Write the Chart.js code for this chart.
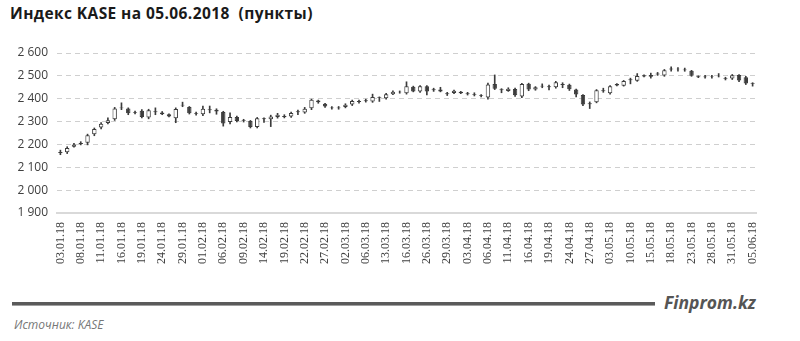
<!DOCTYPE html>
<html>
<head>
<meta charset="utf-8">
<script src="https://cdn.jsdelivr.net/npm/chart.js@4.4.1/dist/chart.umd.min.js"></script>
<style>
  body { margin: 0; background: #fff; width: 800px; height: 341px; overflow: hidden; position: relative; font-family: "Open Sans", sans-serif; }
  #title { position: absolute; left: 10px; top: 2px; font-weight: bold; font-size: 15.5px; letter-spacing: 0.4px; color: #1a1a1a; white-space: pre; }
  #wrap { position: absolute; left: 0; top: 0; width: 800px; height: 285px; }
  #rule { position: absolute; left: 12px; top: 302px; width: 643px; height: 3px; background: #5a5a5a; border-bottom: 1px solid #a0a0a0; }
  #brand { position: absolute; left: 664px; top: 290px; font-size: 17.5px; font-weight: bold; font-style: italic; color: #555; }
  #source { position: absolute; left: 14px; top: 316px; font-size: 12px; font-style: italic; color: #777; }
</style>
</head>
<body>
<div id="title">Индекс KASE на 05.06.2018  (пункты)</div>
<div id="wrap"><canvas id="myChart" width="800" height="285"></canvas></div>
<div id="rule"></div>
<div id="brand">Finprom.kz</div>
<div id="source">Источник: KASE</div>
<script>
// торговые дни
var dates = [
  '03.01.18','04.01.18','05.01.18','08.01.18','09.01.18','10.01.18','11.01.18','12.01.18','15.01.18','16.01.18',
  '17.01.18','18.01.18','19.01.18','22.01.18','23.01.18','24.01.18','25.01.18','26.01.18','29.01.18','30.01.18',
  '31.01.18','01.02.18','02.02.18','05.02.18','06.02.18','07.02.18','08.02.18','09.02.18','12.02.18','13.02.18',
  '14.02.18','15.02.18','16.02.18','19.02.18','20.02.18','21.02.18','22.02.18','23.02.18','26.02.18','27.02.18',
  '28.02.18','01.03.18','02.03.18','03.03.18','05.03.18','06.03.18','07.03.18','12.03.18','13.03.18','14.03.18',
  '15.03.18','16.03.18','19.03.18','20.03.18','26.03.18','27.03.18','28.03.18','29.03.18','30.03.18','02.04.18',
  '03.04.18','04.04.18','05.04.18','06.04.18','09.04.18','10.04.18','11.04.18','12.04.18','13.04.18','16.04.18',
  '17.04.18','18.04.18','19.04.18','20.04.18','23.04.18','24.04.18','25.04.18','26.04.18','27.04.18','28.04.18',
  '02.05.18','03.05.18','04.05.18','08.05.18','10.05.18','11.05.18','14.05.18','15.05.18','16.05.18','17.05.18',
  '18.05.18','21.05.18','22.05.18','23.05.18','24.05.18','25.05.18','28.05.18','29.05.18','30.05.18','31.05.18',
  '01.06.18','04.06.18','05.06.18'
];

var openVals = [
  2163,2166,2190,2202,2207,2245,2274,2294,2310,2358,
  2357,2341,2347,2318,2345,2340,2332,2315,2370,2364,
  2337,2332,2354,2352,2342,2298,2320,2306,2302,2276,
  2314,2310,2320,2320,2322,2341,2340,2358,2392,2378,
  2362,2358,2364,2375,2386,2389,2388,2406,2402,2420,
  2428,2424,2452,2432,2455,2437,2440,2424,2425,2430,
  2424,2420,2412,2405,2464,2441,2434,2442,2410,2465,
  2440,2453,2454,2450,2464,2461,2440,2416,2376,2384,
  2433,2424,2464,2457,2485,2479,2503,2496,2506,2502,
  2528,2529,2524,2522,2498,2494,2497,2498,2490,2488,
  2504,2494,2468
];
var highVals = [
  2175,2190,2205,2212,2245,2272,2296,2316,2362,2382,
  2360,2346,2352,2354,2360,2344,2334,2360,2385,2366,
  2342,2368,2368,2356,2345,2338,2324,2310,2305,2318,
  2316,2328,2336,2330,2342,2350,2362,2398,2394,2380,
  2366,2366,2378,2394,2394,2398,2420,2408,2424,2434,
  2434,2474,2455,2458,2458,2446,2450,2428,2438,2432,
  2428,2426,2418,2468,2504,2444,2448,2446,2467,2468,
  2453,2465,2460,2476,2470,2464,2442,2418,2386,2440,
  2446,2458,2466,2480,2490,2510,2505,2512,2515,2528,
  2540,2536,2534,2524,2500,2502,2502,2510,2494,2506,
  2506,2498,2470
];
var lowVals = [
  2155,2160,2188,2198,2198,2238,2268,2290,2305,2352,
  2330,2334,2316,2312,2330,2330,2320,2295,2365,2333,
  2328,2326,2338,2332,2280,2290,2298,2298,2272,2272,
  2296,2278,2315,2316,2318,2330,2336,2352,2380,2362,
  2354,2354,2360,2370,2380,2385,2384,2388,2398,2418,
  2424,2420,2430,2428,2417,2432,2430,2414,2422,2422,
  2416,2412,2408,2398,2440,2426,2432,2410,2405,2435,
  2437,2448,2438,2446,2448,2436,2408,2370,2357,2382,
  2428,2420,2456,2455,2465,2476,2495,2490,2502,2498,
  2520,2520,2520,2498,2492,2490,2490,2495,2482,2484,
  2475,2462,2455
];
var closeVals = [
  2167,2184,2200,2206,2240,2268,2290,2306,2357,2362,
  2336,2338,2320,2350,2341,2332,2322,2355,2374,2336,
  2334,2356,2350,2344,2292,2320,2302,2302,2276,2315,
  2310,2322,2330,2324,2338,2345,2356,2395,2384,2366,
  2358,2362,2374,2390,2390,2393,2408,2403,2420,2430,
  2431,2455,2432,2455,2432,2441,2432,2420,2435,2424,
  2420,2416,2415,2462,2444,2437,2444,2415,2464,2440,
  2450,2457,2450,2472,2460,2441,2418,2375,2380,2437,
  2437,2454,2458,2477,2481,2499,2497,2504,2510,2525,
  2532,2531,2528,2501,2494,2497,2495,2501,2486,2503,
  2480,2467,2464
];

var yTicks = [1900, 2000, 2100, 2200, 2300, 2400, 2500, 2600];

var dark = '#3c3c3c';
var bodies = [], wicks = [], fills = [];
for (var i = 0; i < dates.length; i++) {
  bodies.push([openVals[i], closeVals[i]]);
  wicks.push([lowVals[i], highVals[i]]);
  fills.push(closeVals[i] >= openVals[i] ? '#ffffff' : dark);
}

function fmt(v) {
  return String(v).replace(/\B(?=(\d{3})+(?!\d))/g, ' ');
}

var ctx = document.getElementById('myChart').getContext('2d');
var myChart = new Chart(ctx, {
  type: 'bar',
  data: {
    labels: dates,
    datasets: [{
      label: 'body',
      data: bodies,
      backgroundColor: fills,
      borderColor: dark,
      borderWidth: 1,
      borderSkipped: false,
      grouped: false,
      barPercentage: 0.65,
      categoryPercentage: 1,
      order: 0
    }, {
      label: 'wick',
      data: wicks,
      backgroundColor: dark,
      borderWidth: 0,
      grouped: false,
      barThickness: 1,
      order: 1
    }]
  },
  options: {
    responsive: false,
    animation: false,
    layout: { padding: { top: 53, right: 44, left: 0, bottom: 0 } },
    plugins: { legend: { display: false }, tooltip: { enabled: false } },
    scales: {
      x: {
        grid: { display: false, drawTicks: false },
        border: { display: true, color: '#d9d9d9', width: 2 },
        ticks: {
          autoSkip: false,
          maxRotation: 90,
          minRotation: 90,
          padding: 9,
          color: '#404040',
          font: { family: 'Liberation Serif', size: 12 },
          callback: function(v, i) { return i % 3 === 0 ? dates[i] : ''; }
        },
        afterFit: function(axis) { axis.height = 72; }
      },
      y: {
        min: 1900,
        max: 2600,
        afterBuildTicks: function(axis) { axis.ticks = yTicks.map(function(v) { return { value: v }; }); },
        grid: {
          color: function(c) { return c.tick && c.tick.value === 1900 ? 'rgba(0,0,0,0)' : '#cfcfcf'; },
          drawTicks: false
        },
        border: { display: false, dash: [5, 4] },
        ticks: {
          padding: 9,
          color: '#404040',
          font: { family: 'Open Sans', size: 12 },
          callback: function(v) { return fmt(v); }
        },
        afterFit: function(axis) { axis.width = 57; }
      }
    }
  }
});
</script>
</body>
</html>
